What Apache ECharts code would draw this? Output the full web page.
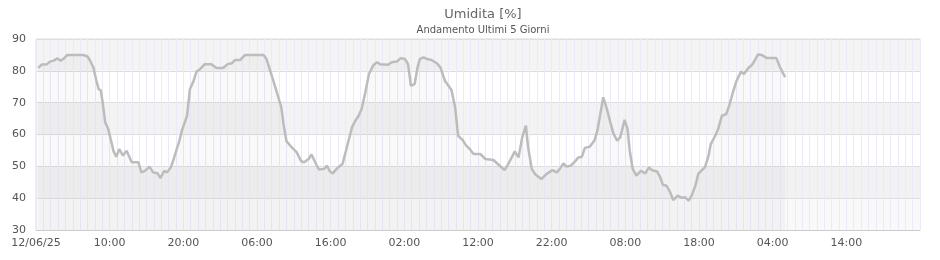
<!DOCTYPE html>
<html>
<head>
<meta charset="utf-8">
<script src="https://cdn.jsdelivr.net/npm/echarts@6/dist/echarts.min.js"></script>
<style>html,body{margin:0;padding:0;background:#fff}#c{width:940px;height:260px}</style>
</head>
<body>
<div id="c"></div>
<script>
var titleText = 'Umidita [%]';
var subTitleText = 'Andamento Ultimi 5 Giorni';
var xTickLabels = ['12/06/25','10:00','20:00','06:00','16:00','02:00','12:00','22:00','08:00','18:00','04:00','14:00',''];
var yMin = 30, yMax = 90, yStep = 10;
var hoursFromStart = [
0.3,0.8,1.5,1.9,2.4,2.9,3.35,3.7,4.25,6.4,7.0,7.3,7.8,8.2,8.5,8.8,9.05,9.4,9.8,10.3,
10.5,10.9,11.3,11.8,12.3,12.8,13.0,13.9,14.3,14.8,15.4,15.9,16.5,16.9,17.4,17.8,18.3,18.7,19.1,19.4,
19.8,20.5,20.9,21.4,21.8,22.3,22.9,23.8,24.5,25.4,26.0,26.6,27.0,27.7,28.4,30.9,31.3,32.0,32.7,33.3,
33.6,34.0,34.7,35.4,36.0,36.4,37.0,37.4,37.9,38.4,38.6,39.1,39.5,39.9,40.3,40.8,41.3,41.6,42.2,42.9,
43.3,43.8,44.2,44.7,45.2,45.8,46.3,46.7,47.8,48.3,49.0,49.5,50.1,50.5,50.9,51.4,51.8,52.1,52.6,53.1,
53.7,54.4,54.9,55.5,56.0,56.4,56.9,57.3,57.9,58.4,58.9,59.4,60.3,61.0,62.1,62.8,63.6,64.1,65.0,65.5,
66.0,66.5,66.8,67.3,67.8,68.6,69.3,70.1,70.7,71.1,71.6,72.0,72.6,73.2,73.6,74.1,74.5,75.2,75.8,76.2,
76.6,77.0,77.5,78.0,78.4,78.9,79.3,79.9,80.3,80.6,81.0,81.5,82.1,82.7,83.2,83.6,84.3,84.7,85.1,85.6,
86.1,86.5,87.1,87.7,88.1,88.6,89.0,89.5,89.9,90.4,90.8,91.3,91.6,92.2,92.6,93.1,93.7,94.1,94.6,95.1,
95.7,96.1,96.7,97.2,97.6,98.0,98.5,99.2,100.5,101.0,101.7
];
var humidity = [
80.9,82,82.1,82.9,83.2,83.9,83.2,83.7,85,85,84.5,83.4,81,76.9,74.3,73.8,70.1,63.8,61.7,57,
54.9,53,55.4,53.4,54.9,52.3,51.3,51.3,48.1,48.6,49.9,48.1,47.8,46.3,48.6,48.1,49.7,52.3,55.4,57.5,
61.2,65.9,74.3,76.9,79.8,80.6,82.1,82.1,80.9,80.9,82.1,82.4,83.4,83.4,85,85,83.7,78.5,73.2,68.5,
63.3,57.9,56,54.4,51.6,51.3,52.3,53.7,51.3,49,48.8,49.2,50.2,48.4,47.8,49.2,50.2,50.7,56,62.3,
64.1,65.9,68,73.2,79,81.8,82.7,82.1,81.9,82.7,82.9,84,83.7,82.1,75.3,75.9,81.1,83.7,84.2,83.7,
83.4,82.4,81.1,76.9,75.3,74,68.5,59.6,58.3,56.5,55.4,53.9,53.9,52.3,52,50.5,48.8,50.7,54.7,52.8,
59.1,62.8,56,49.2,47.4,46,47.6,48.8,48.1,49.2,50.9,49.9,50.2,51.6,52.8,53,55.8,56.2,58.1,61.2,
66.4,71.7,68,63.5,60.2,58.1,59.1,64.6,61.7,54.9,49.2,47.1,48.6,47.8,49.7,48.8,48.4,46.8,44.2,43.9,
41.8,39.4,40.8,40.1,40.3,39.2,40.8,43.9,47.6,48.8,49.7,53.4,57,59.6,61.7,65.9,66.4,69.1,73.2,76.9,
79.8,79,80.9,81.9,83.4,85.1,85,84,84,81.1,78
];

var seriesData = hoursFromStart.map(function (h, i) { return [h, humidity[i]]; });
var chart = echarts.init(document.getElementById('c'), null, {renderer: 'canvas'});
var font = 'DejaVu Sans';
chart.setOption({
  animation: false,
  backgroundColor: '#ffffff',
  title: {
    text: titleText,
    subtext: subTitleText,
    left: 478,
    textAlign: 'center',
    top: 3,
    itemGap: 4,
    textStyle: {fontFamily: font, fontSize: 13, fontWeight: 'normal', color: '#666'},
    subtextStyle: {fontFamily: font, fontSize: 10, color: '#555'}
  },
  grid: {left: 36, right: 20, top: 39, bottom: 30, show: true, borderColor: '#dddddd', borderWidth: 1, backgroundColor: 'transparent'},
  xAxis: {
    type: 'value', min: 0, max: 120, interval: 10,
    axisLine: {show: true, lineStyle: {color: '#cccccc'}},
    axisTick: {show: false},
    axisLabel: {
      fontFamily: font, fontSize: 11, color: '#555', margin: 8,
      formatter: function (v) { return xTickLabels[Math.round(v / 10)] || ''; }
    },
    splitLine: {show: true, lineStyle: {color: '#eaeaf8', width: 1}},
    minorTick: {show: false, splitNumber: 10},
    minorSplitLine: {show: true, lineStyle: {color: '#eaeaf8', width: 1}}
  },
  yAxis: {
    type: 'value', min: yMin, max: yMax, interval: yStep,
    axisLine: {show: false},
    axisTick: {show: false},
    axisLabel: {fontFamily: font, fontSize: 11, color: '#555', margin: 10},
    splitLine: {show: true, lineStyle: {color: '#dddddd', width: 1}},
    splitArea: {show: true, areaStyle: {color: ['#f9f9f9', '#f2f2f2', '#ffffff', '#f3f3f3', '#ffffff', '#f4f4f4']}}
  },
  series: [{
    type: 'line',
    data: seriesData,
    showSymbol: false,
    lineStyle: {color: '#bcbcbc', width: 2.5},
    areaStyle: {color: 'rgba(0,0,0,0.035)', origin: 'start'},
    z: 3
  }]
});
</script>
</body>
</html>
